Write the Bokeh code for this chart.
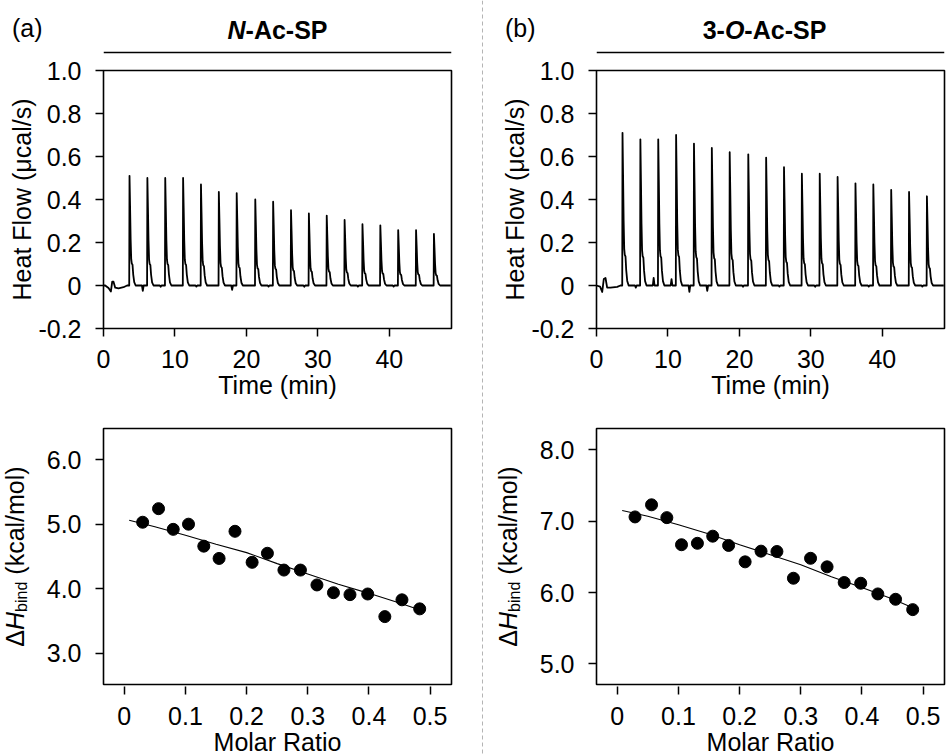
import numpy as np
from bokeh.plotting import figure
from bokeh.models import Range1d, FixedTicker, Label, Span
from bokeh.layouts import row, column
from bokeh.embed import file_html
from bokeh.resources import INLINE

FONT = "Liberation Sans"
FS = "25px"

# ---------------- data ----------------
inj_times = [3.6, 6.1, 8.6, 11.1, 13.6, 16.1, 18.6, 21.2, 23.7, 26.2,
             28.7, 31.2, 33.7, 36.2, 38.7, 41.2, 43.7, 46.2]
peak_a = [0.51, 0.50, 0.50, 0.50, 0.47, 0.435, 0.43, 0.40, 0.39, 0.35,
          0.335, 0.325, 0.305, 0.285, 0.28, 0.258, 0.258, 0.24]
peak_b = [0.71, 0.68, 0.68, 0.70, 0.66, 0.64, 0.62, 0.61, 0.595, 0.55,
          0.52, 0.52, 0.505, 0.475, 0.47, 0.445, 0.435, 0.415]
# small baseline blips between injections
gap_a = [-0.025, -0.006, 0.0, -0.005, 0.0, -0.02, 0.0, -0.005, 0.0,
         -0.006, 0.0, 0.0, -0.005, 0.0, -0.005, 0.0, 0.0, 0.0]
gap_b = [-0.01, 0.035, 0.03, -0.03, -0.025, 0.0, -0.006, 0.0, -0.005,
         0.0, -0.006, 0.0, 0.0, -0.005, 0.0, 0.0, -0.005, 0.0]
pre_t_a = [0.0, 0.24, 0.7, 1.03, 1.22, 1.4, 1.64, 2.1, 2.8, 3.3]
pre_v_a = [0.0, 0.0, -0.012, -0.028, 0.018, 0.018, -0.01, -0.013, -0.008, 0.0]
pre_t_b = [0.0, 0.5, 0.8, 1.02, 1.26, 1.49, 1.96, 2.9, 3.35]
pre_v_b = [0.0, -0.005, -0.03, 0.03, 0.035, -0.01, -0.01, -0.006, 0.0]
t_end = 48.6
# shape of one injection peak: minutes after injection, fraction of peak height
shape_dt = [0.0, 0.04, 0.12, 0.2, 0.28, 0.36, 0.46, 0.56, 0.7, 0.9]
shape_frac = [0.0, 1.0, 0.72, 0.42, 0.24, 0.2, 0.19, 0.1, 0.03, 0.0]
gap_dt = 1.9
blip_w = 0.12

mr_a = [0.030, 0.056, 0.080, 0.105, 0.130, 0.155, 0.181, 0.209, 0.234,
        0.261, 0.288, 0.315, 0.342, 0.369, 0.398, 0.426, 0.454, 0.483]
dh_a = [5.03, 5.24, 4.92, 5.00, 4.66, 4.47, 4.89, 4.41, 4.55,
        4.29, 4.29, 4.06, 3.94, 3.91, 3.92, 3.57, 3.83, 3.69]
fit_mr_a = [0.008, 0.05, 0.1, 0.15, 0.2, 0.25, 0.3, 0.35, 0.4, 0.45, 0.491]
fit_a = [5.06, 4.96, 4.83, 4.69, 4.56, 4.39, 4.23, 4.07, 3.93, 3.78, 3.65]

mr_b = [0.029, 0.056, 0.081, 0.105, 0.131, 0.156, 0.182, 0.209, 0.235,
        0.261, 0.288, 0.316, 0.343, 0.371, 0.398, 0.426, 0.455, 0.483]
dh_b = [7.06, 7.23, 7.05, 6.67, 6.69, 6.79, 6.66, 6.43, 6.58,
        6.575, 6.20, 6.48, 6.36, 6.14, 6.13, 5.98, 5.905, 5.76]
fit_mr_b = [0.008, 0.05, 0.1, 0.15, 0.2, 0.25, 0.3, 0.35, 0.4, 0.45, 0.485]
fit_b = [7.15, 7.07, 6.95, 6.82, 6.67, 6.53, 6.39, 6.22, 6.07, 5.91, 5.78]

time_ticks = [0, 10, 20, 30, 40]
flow_ticks = [-0.2, 0, 0.2, 0.4, 0.6, 0.8, 1.0]
flow_labels = ["-0.2", "0", "0.2", "0.4", "0.6", "0.8", "1.0"]
ratio_ticks = [0, 0.1, 0.2, 0.3, 0.4, 0.5]
ratio_labels = ["0", "0.1", "0.2", "0.3", "0.4", "0.5"]
dh_ticks_a = [3, 4, 5, 6]
dh_labels_a = ["3.0", "4.0", "5.0", "6.0"]
dh_ticks_b = [5, 6, 7, 8]
dh_labels_b = ["5.0", "6.0", "7.0", "8.0"]

time_range = (0, 48.7)
flow_range = (-0.2, 1.0)
ratio_range = (-0.034, 0.535)
dh_range_a = (2.52, 6.48)
dh_range_b = (4.71, 8.30)

# ---------------- layout constants (pixels) ----------------
FW = 348
HEAD_H = 57
TOP_T, TOP_FH, TOP_B = 13, 258, 80
BOT_T, BOT_FH, BOT_B = 20, 256, 70
LEFT_W, LEFT_LB = 476, 103
DIV_W = 12
RIGHT_W, RIGHT_LB = 458, 108
BOT_LB = 64          # left border of the lower plots (tick labels only)
YLAB_OFF = 89        # rotated y-label anchor, left of the frame
TAG_GAP = 61         # "(a)" right edge, left of the frame
TAG_Y = 29.7         # "(a)" centre (px above header bottom)
HEAD_BASE = 28       # header title anchor (px above header bottom)
HEAD_LINE = 5        # header rule (px above header bottom)

# Arial-compatible advance widths (em) for composing mixed-style labels
ADV_B = {"N": .722, "A": .722, "c": .556, "-": .333, "S": .667, "P": .667,
         "O": .778, "3": .556}
ADV_R = {"Δ": .668, "H": .722, "b": .556, "i": .222, "n": .556, "d": .556,
         " ": .278, "(": .333, ")": .333, "k": .5, "c": .5, "a": .556,
         "l": .222, "/": .278, "m": .833, "o": .556}


def width(s, px, table):
    return sum(table[ch] for ch in s) * px


def build_trace(pre_t, pre_v, heights, gaps):
    t = list(pre_t)
    v = list(pre_v)
    for ti, h, g in zip(inj_times, heights, gaps):
        for dt, f in zip(shape_dt, shape_frac):
            t.append(ti + dt)
            v.append(h * f)
        if g != 0.0:
            t += [ti + gap_dt - blip_w, ti + gap_dt, ti + gap_dt + blip_w]
            v += [0.0, g, 0.0]
    t.append(t_end)
    v.append(0.0)
    return t, v


def style_axis(ax, ticks, labels, tick_in, tick_out, standoff, label_standoff):
    ax.ticker = FixedTicker(ticks=ticks)
    if labels is not None:
        ax.major_label_overrides = dict(zip(ticks, labels))
    ax.axis_line_color = None
    ax.major_tick_in = tick_in
    ax.major_tick_out = tick_out
    ax.major_tick_line_color = "black"
    ax.major_tick_line_width = 1.5
    ax.minor_tick_line_color = None
    ax.major_label_standoff = standoff
    ax.major_label_text_font = FONT
    ax.major_label_text_font_size = FS
    ax.major_label_text_color = "black"
    ax.axis_label_text_font = FONT
    ax.axis_label_text_font_size = FS
    ax.axis_label_text_font_style = "normal"
    ax.axis_label_text_color = "black"
    ax.axis_label_standoff = label_standoff


def make_fig(fw, fh, lb, rb, tb, bb, xr, yr, xloc="below", yloc="left"):
    p = figure(frame_width=fw, frame_height=fh,
               min_border_left=lb, min_border_right=rb,
               min_border_top=tb, min_border_bottom=bb,
               x_range=Range1d(*xr), y_range=Range1d(*yr),
               x_axis_location=xloc, y_axis_location=yloc,
               output_backend="svg", toolbar_location=None)
    p.grid.visible = False
    p.outline_line_color = "black"
    p.outline_line_width = 1.6
    p.background_fill_color = "white"
    p.border_fill_color = "white"
    return p


def header(lb, rb, tag, pieces, center_shift):
    h = make_fig(FW, HEAD_H, lb, rb, 0, 0, (0, FW), (0, HEAD_H), xloc=None)
    h.outline_line_color = None
    # panel tag "(a)" drawn as the single tick label of a bare left axis
    style_axis(h.yaxis[0], [TAG_Y], [tag], 0, 0, TAG_GAP, 0)
    h.yaxis[0].major_tick_line_color = None
    h.add_layout(Span(location=HEAD_LINE, dimension="width",
                      line_color="black", line_width=1.5))
    total = sum(width(s, 25, ADV_B) for s, _ in pieces)
    x = FW / 2 + center_shift - total / 2
    for s, style in pieces:
        h.add_layout(Label(x=x, y=HEAD_BASE, text=s, text_font=FONT,
                           text_font_size=FS, text_font_style=style,
                           text_color="black", text_align="left",
                           text_baseline="alphabetic"))
        x += width(s, 25, ADV_B)
    return h


def top_fig(lb, rb, heights, gaps, pre_t, pre_v):
    p = make_fig(FW, TOP_FH, lb, rb, TOP_T, TOP_B, time_range, flow_range)
    t, v = build_trace(pre_t, pre_v, heights, gaps)
    p.line(t, v, line_color="black", line_width=1.8, line_join="round")
    style_axis(p.xaxis[0], time_ticks, None, 0, 8, 13, 0)
    style_axis(p.yaxis[0], flow_ticks, flow_labels, 0, 8, 14, -1)
    p.xaxis.axis_label = "Time (min)"
    p.yaxis.axis_label = "Heat Flow (\u03bccal/s)"
    return p


def ylabel_fig(lw):
    # narrow strip whose frame lines up with the lower plot's frame;
    # it holds the rotated ΔH_bind (kcal/mol) label
    f = make_fig(lw, BOT_FH, 0, 0, BOT_T, BOT_B, (0, lw), (0, BOT_FH),
                 xloc=None, yloc=None)
    f.outline_line_color = None
    parts = [("Δ", "normal", 25, 0, 0), ("H", "italic", 25, 0, 0),
             ("bind", "normal", 16, 7, 0),
             ("(kcal/mol)", "normal", 25, 0, width(" ", 25, ADV_R))]
    total = sum(width(s, fs, ADV_R) + pre for s, _, fs, _, pre in parts)
    y = BOT_FH / 2 - total / 2
    xb = lw + BOT_LB - YLAB_OFF
    for s, style, fs, sub, pre in parts:
        y += pre
        f.add_layout(Label(x=xb + sub, y=y, text=s, angle=np.pi / 2,
                           text_font=FONT, text_font_size=f"{fs}px",
                           text_font_style=style, text_color="black",
                           text_align="left", text_baseline="alphabetic"))
        y += width(s, fs, ADV_R)
    return f


def bottom_fig(rb, mr, dh, fmr, fit, yr, yt, yl):
    p = make_fig(FW, BOT_FH, BOT_LB, rb, BOT_T, BOT_B, ratio_range, yr)
    p.line(fmr, fit, line_color="black", line_width=1.1)
    p.scatter(mr, dh, size=12, fill_color="black", line_color="black")
    style_axis(p.xaxis[0], ratio_ticks, ratio_labels, -2, 10, 12, 0)
    style_axis(p.yaxis[0], yt, yl, 0, 8, 14, 0)
    p.xaxis.axis_label = "Molar Ratio"
    return p


LEFT_RB = LEFT_W - LEFT_LB - FW
RIGHT_RB = RIGHT_W - RIGHT_LB - FW

hL = header(LEFT_LB, LEFT_RB, "(a)",
            [("N", "bold italic"), ("-Ac-SP", "bold")], 0)
tL = top_fig(LEFT_LB, LEFT_RB, peak_a, gap_a, pre_t_a, pre_v_a)
bL = row(ylabel_fig(LEFT_LB - BOT_LB),
         bottom_fig(LEFT_RB, mr_a, dh_a, fit_mr_a, fit_a,
                    dh_range_a, dh_ticks_a, dh_labels_a))

hR = header(RIGHT_LB, RIGHT_RB, "(b)",
            [("3-", "bold"), ("O", "bold italic"), ("-Ac-SP", "bold")], -6)
tR = top_fig(RIGHT_LB, RIGHT_RB, peak_b, gap_b, pre_t_b, pre_v_b)
bR = row(ylabel_fig(RIGHT_LB - BOT_LB),
         bottom_fig(RIGHT_RB, mr_b, dh_b, fit_mr_b, fit_b,
                    dh_range_b, dh_ticks_b, dh_labels_b))

TOTAL_H = HEAD_H + TOP_T + TOP_FH + TOP_B + BOT_T + BOT_FH + BOT_B
div = make_fig(DIV_W, TOTAL_H, 0, 0, 0, 0, (0, 1), (0, 1), xloc=None, yloc=None)
div.outline_line_color = None
div.add_layout(Span(location=0.5, dimension="height", line_color="#b4b4b4",
                    line_width=1, line_dash="4 3"))

layout = row(column(hL, tL, bL), div, column(hR, tR, bR))

open("out.html", "w").write(file_html(layout, INLINE))
